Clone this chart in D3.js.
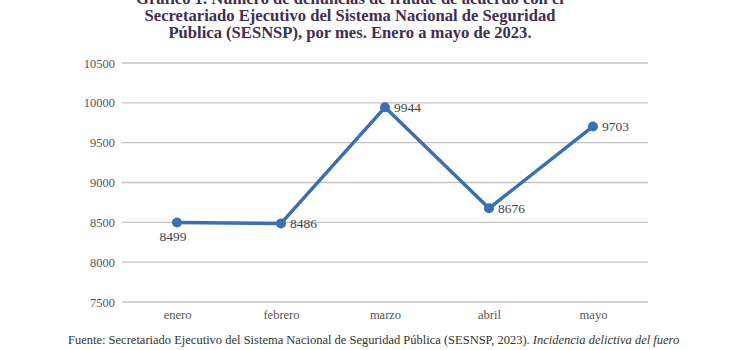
<!DOCTYPE html>
<html>
<head>
<meta charset="utf-8">
<script src="https://cdn.jsdelivr.net/npm/d3@7/dist/d3.min.js"></script>
<style>
  html, body { margin: 0; padding: 0; background: #ffffff; }
  svg { display: block; }
</style>
</head>
<body>
<div id="chart"></div>
<script>
// Denuncias de fraude por mes (SESNSP), enero a mayo de 2023
const months = ["enero", "febrero", "marzo", "abril", "mayo"];
const complaints = [8499, 8486, 9944, 8676, 9703];
const yTicks = [7500, 8000, 8500, 9000, 9500, 10000, 10500];
const titleLines = [
  "Gráfico 1. Número de denuncias de fraude de acuerdo con el",
  "Secretariado Ejecutivo del Sistema Nacional de Seguridad",
  "Pública (SESNSP), por mes. Enero a mayo de 2023."
];
const sourceNote = "Fuente: Secretariado Ejecutivo del Sistema Nacional de Seguridad Pública (SESNSP, 2023). ";
const sourceItalic = "Incidencia delictiva del fuero";

// label placement per point: "below" or "right"
const labelPos = ["below", "right", "right", "right", "right"];

const W = 750, H = 350;
const margin = { left: 125, right: 105, top: 63, bottom: 48 };

const svg = d3.select("#chart").append("svg")
  .attr("width", W).attr("height", H);

const serif = "'Liberation Serif', 'DejaVu Serif', serif";

// title (the first line sits partly above the top edge)
svg.append("g").selectAll("text").data(titleLines).join("text")
  .attr("x", 350)
  .attr("y", (d, i) => 4 + i * 17.2)
  .attr("text-anchor", "middle")
  .attr("font-family", serif)
  .attr("font-weight", "bold")
  .attr("font-size", 16.6)
  .attr("fill", "#3e2f4e")
  .text(d => d);

const x = d3.scalePoint().domain(months)
  .range([margin.left, W - margin.right]).padding(0.5);
const y = d3.scaleLinear().domain([7500, 10500])
  .range([H - margin.bottom, margin.top]);

// horizontal gridlines
svg.append("g").selectAll("line").data(yTicks).join("line")
  .attr("x1", 122).attr("x2", W - margin.right + 3)
  .attr("y1", d => y(d)).attr("y2", d => y(d))
  .attr("stroke", "#c4c4c4").attr("stroke-width", 1.3);

// y axis labels
const yAxis = d3.axisLeft(y).tickValues(yTicks).tickSize(0).tickPadding(6)
  .tickFormat(d3.format("d"));
const yg = svg.append("g").attr("transform", `translate(121,0)`).call(yAxis);
yg.select(".domain").remove();
yg.selectAll("text")
  .attr("font-family", serif).attr("font-size", 12.5).attr("fill", "#555555");

// x axis labels
const xAxis = d3.axisBottom(x).tickSize(0).tickPadding(8);
const xg = svg.append("g").attr("transform", `translate(0,${y(7500)})`).call(xAxis);
xg.select(".domain").remove();
xg.selectAll("text")
  .attr("font-family", serif).attr("font-size", 12.5).attr("fill", "#555555");

// series line
const pts = months.map((m, i) => ({ m, v: complaints[i], pos: labelPos[i] }));
svg.append("path").datum(pts)
  .attr("fill", "none")
  .attr("stroke", "#3b6fb1")
  .attr("stroke-width", 3.5)
  .attr("stroke-linejoin", "round")
  .attr("d", d3.line().x(d => x(d.m)).y(d => y(d.v)));

svg.append("g").selectAll("circle").data(pts).join("circle")
  .attr("cx", d => x(d.m)).attr("cy", d => y(d.v))
  .attr("r", 5).attr("fill", "#3b6fb1");

// value labels
svg.append("g").selectAll("text").data(pts).join("text")
  .attr("x", d => d.pos === "below" ? x(d.m) - 4 : x(d.m) + 9)
  .attr("y", d => d.pos === "below" ? y(d.v) + 19 : y(d.v) + 5)
  .attr("text-anchor", d => d.pos === "below" ? "middle" : "start")
  .attr("font-family", serif).attr("font-size", 13.5).attr("fill", "#444444")
  .text(d => d.v);

// source note
const src = svg.append("text")
  .attr("x", 68).attr("y", 344)
  .attr("font-family", serif).attr("font-size", 12.5).attr("fill", "#333333");
src.append("tspan").text(sourceNote);
src.append("tspan").attr("font-style", "italic").text(sourceItalic);
</script>
</body>
</html>
